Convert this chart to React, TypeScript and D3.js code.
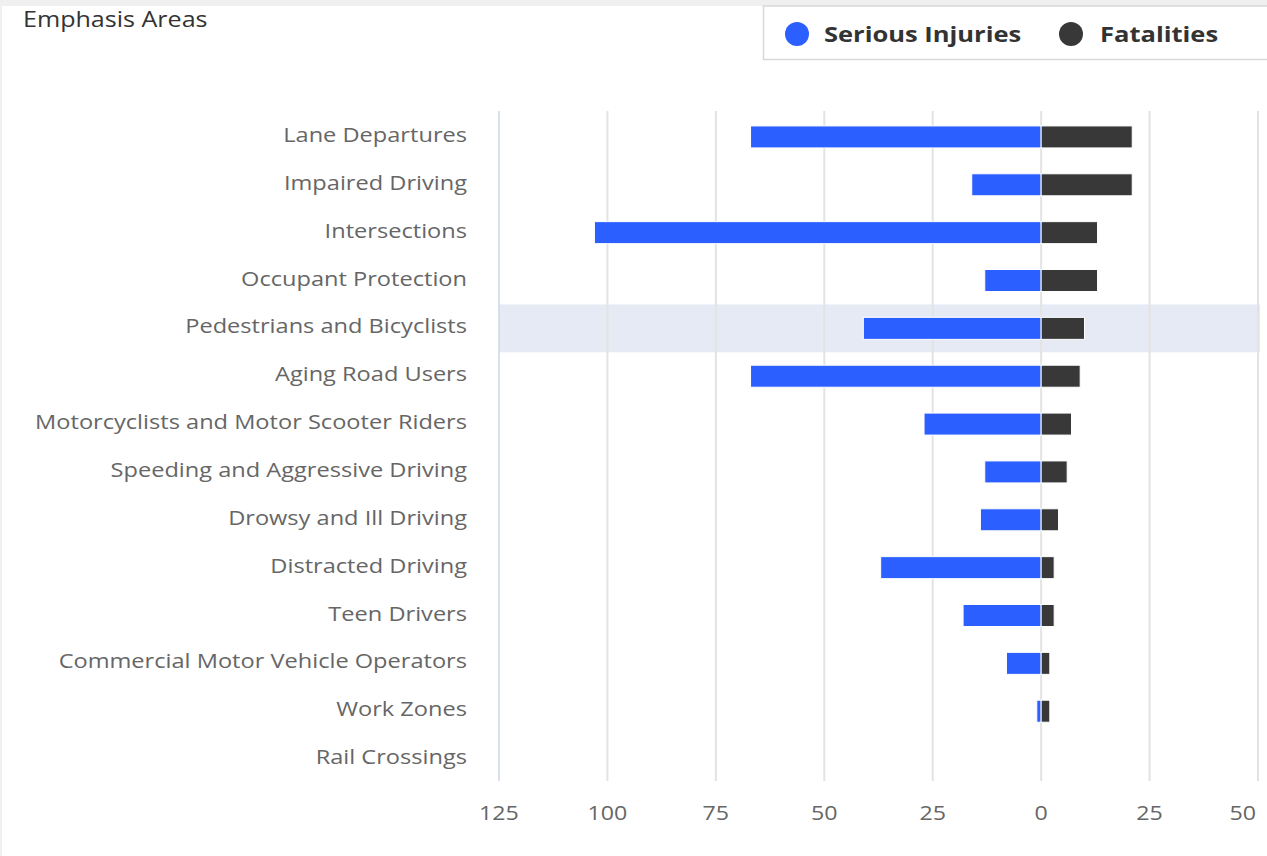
import React from "react";
import * as d3 from "d3";

const categories = [
  "Lane Departures",
  "Impaired Driving",
  "Intersections",
  "Occupant Protection",
  "Pedestrians and Bicyclists",
  "Aging Road Users",
  "Motorcyclists and Motor Scooter Riders",
  "Speeding and Aggressive Driving",
  "Drowsy and Ill Driving",
  "Distracted Driving",
  "Teen Drivers",
  "Commercial Motor Vehicle Operators",
  "Work Zones",
  "Rail Crossings",
];
const seriousInjuries = [67, 16, 103, 13, 41, 67, 27, 13, 14, 37, 18, 8, 1, 0];
const fatalities = [21, 21, 13, 13, 10, 9, 7, 6, 4, 3, 3, 2, 2, 0];
const tickValues = [-125, -100, -75, -50, -25, 0, 25, 50];
const highlighted = "Pedestrians and Bicyclists";

const W = 1267;
const H = 856;
const left = 499;
const right = 1258;
const top = 113;
const bottom = 783;
const FONT = "'Open Sans', 'Noto Sans', sans-serif";
const BLUE = "#2b5fff";
const DARK = "#383838";
const SX = 1.16;

function T(props: { x: number; y: number; sx?: number; children: React.ReactNode; [k: string]: any }) {
  const { x, y, sx = SX, children, ...rest } = props;
  return (
    <text transform={`translate(${x},${y}) scale(${sx},1)`} {...rest}>
      {children}
    </text>
  );
}

export default function App() {
  const x = d3.scaleLinear().domain([-125, 50]).range([left, right]);
  const y = d3.scaleBand().domain(categories).range([top, bottom]).padding(0);
  const barH = 22;

  return (
    <div style={{ position: "absolute", left: 0, top: 0 }}>
      <svg width={W} height={H} style={{ display: "block", fontFamily: FONT }}>
        <rect x={0} y={0} width={W} height={H} fill="#fff" />
        <rect x={0} y={0} width={W} height={6} fill="#f0f0f0" />
        <rect x={0} y={0} width={2} height={H} fill="#f0f0f0" />
        <T x={23} y={27} sx={1.14} fontSize={22} fill="#333">Emphasis Areas</T>

        {/* legend */}
        <rect x={763.5} y={6} width={W} height={53.5} fill="#fff" stroke="#d8d8d8" strokeWidth={1.5} />
        <circle cx={797} cy={34} r={12} fill={BLUE} />
        <T x={824} y={42} fontSize={22} fontWeight={700} fill="#333">Serious Injuries</T>
        <circle cx={1071} cy={34} r={12} fill={DARK} />
        <T x={1100} y={42} fontSize={22} fontWeight={700} fill="#333">Fatalities</T>

        {/* highlight band */}
        <rect x={left} y={y(highlighted)!} width={1260 - left} height={y.bandwidth()} fill="#e6eaf5" />

        {/* gridlines */}
        {tickValues.map((t) => (
          <line key={t} x1={x(t)} x2={x(t)} y1={111} y2={781} stroke={t === -125 ? "#ccd6eb" : "#e3e3e3"} strokeWidth={t === -125 ? 1.5 : 2} />
        ))}

        {/* bars */}
        {categories.map((c, i) => {
          const cy = y(c)! + y.bandwidth() / 2;
          const si = seriousInjuries[i];
          const f = fatalities[i];
          return (
            <g key={c}>
              {si > 0 && (
                <rect x={x(-si)} y={cy - barH / 2} width={x(0) - x(-si)} height={barH} fill={BLUE} stroke="#fff" strokeWidth={1} />
              )}
              {f > 0 && (
                <rect x={x(0)} y={cy - barH / 2} width={x(f) - x(0)} height={barH} fill={DARK} stroke="#fff" strokeWidth={1} />
              )}
              <T x={467} y={cy - 2} sx={1.18} dy="0.35em" textAnchor="end" fontSize={20} fill="#666">{c}</T>
            </g>
          );
        })}

        {/* x tick labels */}
        {tickValues.map((t, i) => {
          const last = i === tickValues.length - 1;
          return (
            <T key={t} x={last ? 1256 : x(t)} y={820} textAnchor={last ? "end" : "middle"} fontSize={20} fill="#666">
              {Math.abs(t)}
            </T>
          );
        })}
      </svg>
    </div>
  );
}
